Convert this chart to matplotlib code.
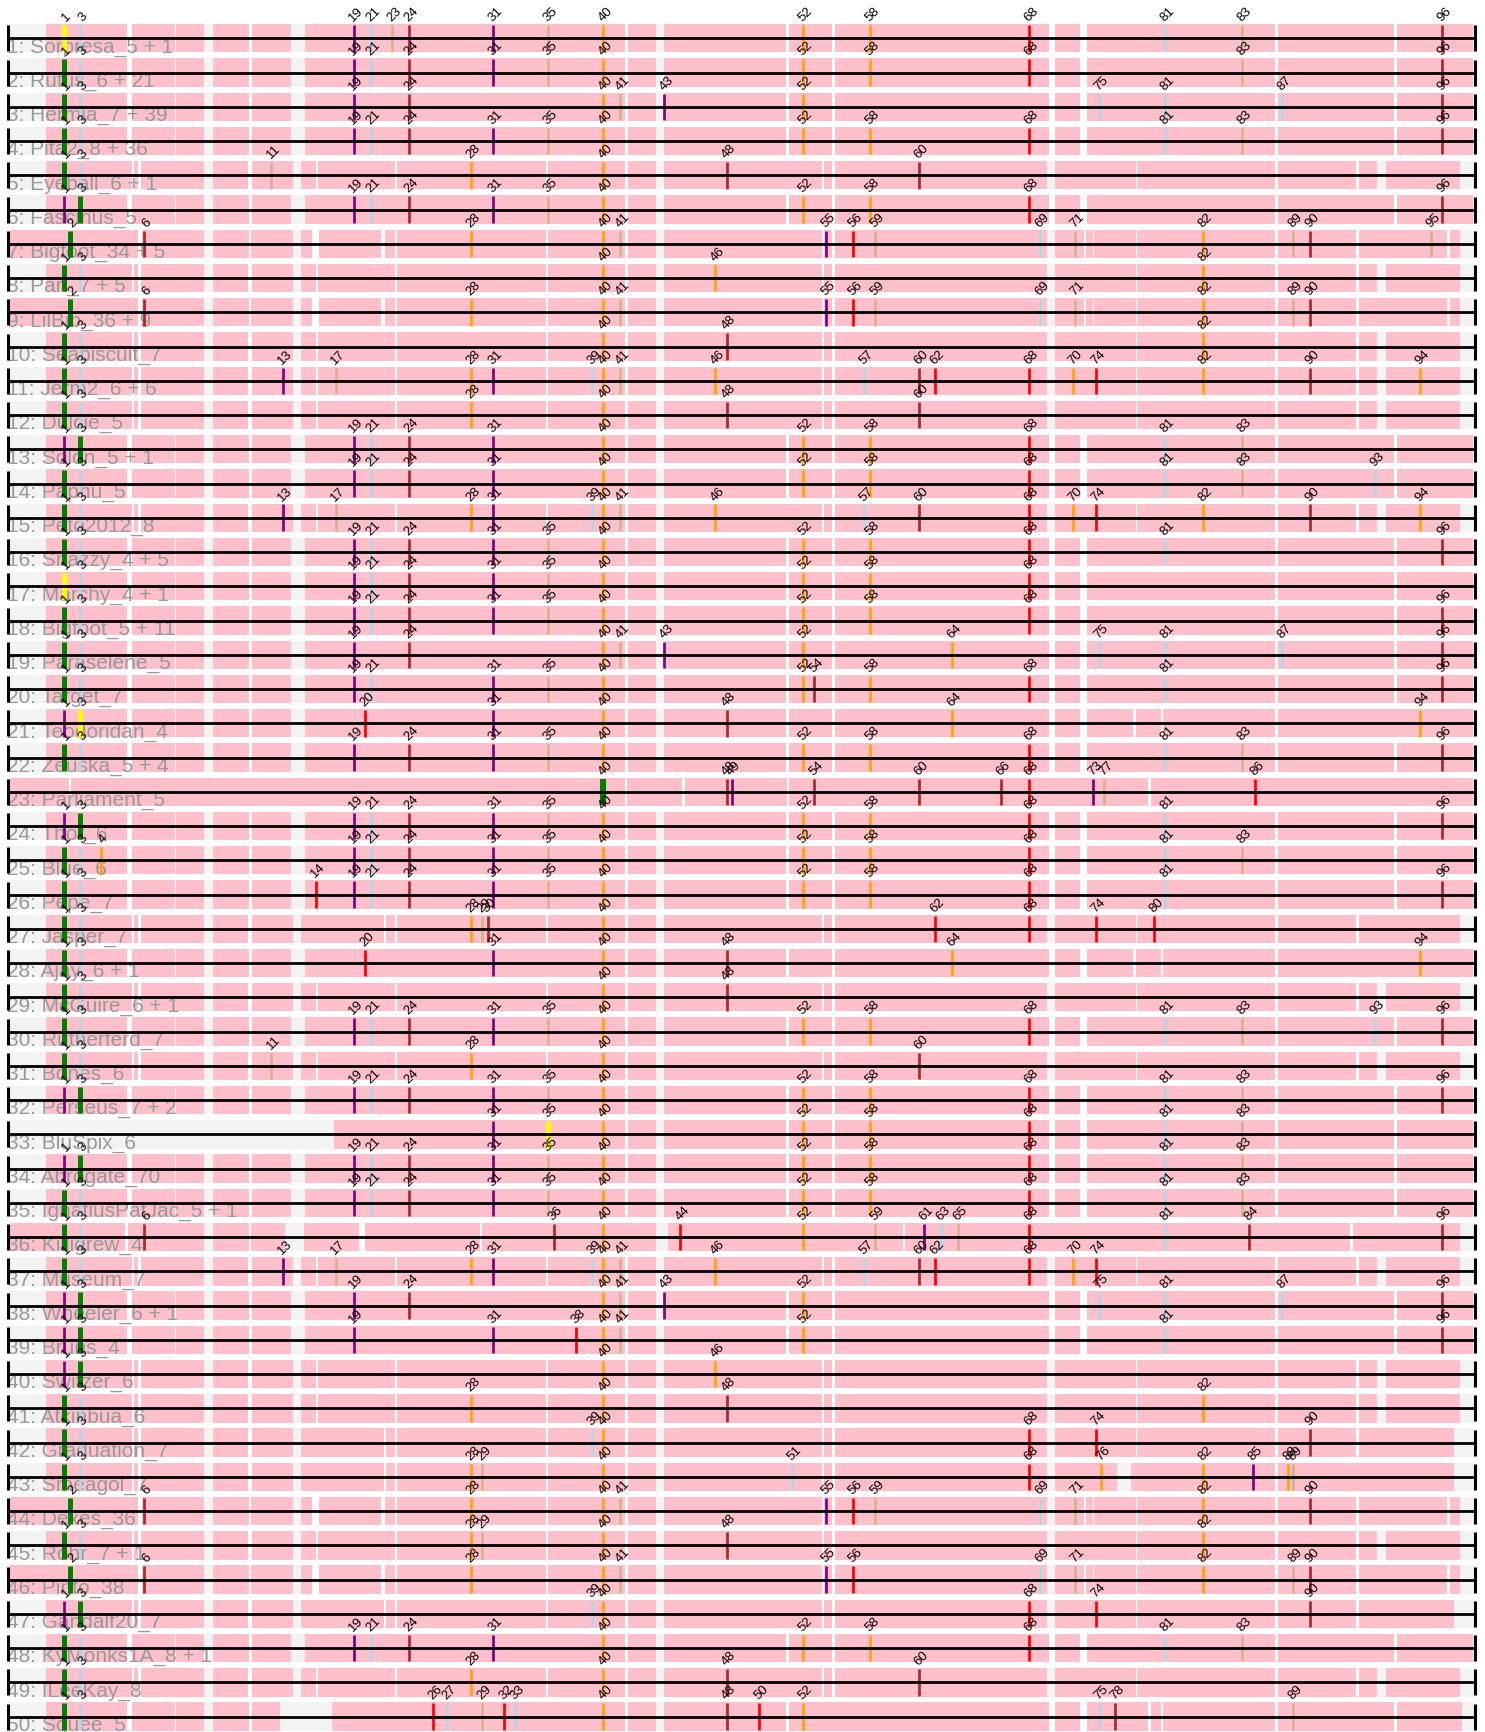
import matplotlib
matplotlib.use("Agg")
import matplotlib.pyplot as plt
from matplotlib.patches import Rectangle
from matplotlib import font_manager

# gene (pham) position along the aligned map, in map units
GENE_POS = {
    1: 64, 2: 70, 3: 80, 4: 101, 6: 144, 11: 271, 13: 283, 14: 316, 17: 336,
    19: 353.5, 20: 364.5, 21: 370.5, 23: 392, 24: 409, 26: 433, 27: 447,
    28: 471, 29: 482, 30: 487.5, 31: 493, 32: 504, 33: 515, 35: 548,
    36: 553.5, 38: 576, 39: 592, 40: 603, 41: 620, 43: 664, 44: 680,
    46: 715, 48: 726.5, 49: 731.5, 50: 759, 51: 792, 52: 803, 54: 814,
    55: 825.5, 56: 853, 57: 864, 58: 869.5, 59: 875, 60: 919, 61: 924,
    62: 935, 63: 941, 64: 952, 65: 958, 66: 1001, 68: 1029, 69: 1040,
    70: 1073, 71: 1075, 73: 1093, 74: 1095.5, 75: 1099, 76: 1100.5,
    77: 1104, 78: 1115, 80: 1154, 81: 1165, 82: 1203, 83: 1242, 84: 1249,
    85: 1253, 86: 1254.5, 87: 1282, 88: 1288, 89: 1293, 90: 1310,
    93: 1375, 94: 1420, 95: 1431, 96: 1442,
}

C = {"g": "#008000", "y": "#ffff00", "p": "#800080", "lb": "#add8e6",
     "t": "#d2b48c", "br": "#a52a2a", "o": "#ffa500", "r": "#ff0000"}

GENE_COLOR = {
    1: "g", 2: "g", 3: "lb", 4: "o", 6: "br", 11: "t", 13: "p", 14: "r", 17: "t",
    19: "p", 20: "r", 21: "lb", 23: "t", 24: "br", 26: "r", 27: "lb", 28: "o",
    29: "t", 30: "br", 31: "p", 32: "r", 33: "lb", 35: "t", 36: "br", 38: "r",
    39: "lb", 40: "o", 41: "t", 43: "p", 44: "r", 46: "o", 48: "br", 49: "p",
    50: "r", 51: "lb", 52: "o", 54: "br", 55: "p", 56: "r", 57: "lb", 58: "o",
    59: "t", 60: "br", 61: "p", 62: "r", 63: "lb", 64: "o", 65: "t", 66: "br",
    68: "r", 69: "lb", 70: "o", 71: "t", 73: "p", 74: "r", 75: "lb", 76: "o",
    77: "t", 78: "br", 80: "r", 81: "lb", 82: "o", 83: "t", 84: "br", 85: "p",
    86: "r", 87: "lb", 88: "o", 89: "t", 90: "br", 93: "lb", 94: "o", 95: "t",
    96: "br",
}

NAMES = [
    "Sorpresa_5 + 1", "Rufus_6 + 21", "Hermia_7 + 39", "Pita2_8 + 36",
    "Eyeball_6 + 1", "Fascinus_5", "Bigfoot_34 + 5", "Pari_7 + 5",
    "LilBib_36 + 9", "Seabiscuit_7", "Jerm2_6 + 6", "Dulcie_5", "Solon_5 + 1",
    "Paphu_5", "Peto2012_8", "Snazzy_4 + 5", "Marchy_4 + 1", "Bigfoot_5 + 11",
    "Paraselene_5", "Target_7", "Teodoridan_4", "Zeuska_5 + 4", "Parliament_5",
    "Thor_6", "Blue_6", "Pepe_7", "Jasper_7", "Ajay_6 + 1", "McGuire_6 + 1",
    "Rutherferd_7", "Bones_6", "Perseus_7 + 2", "BluSpix_6", "Abrogate_70",
    "IgnatiusPatJac_5 + 1", "Killigrew_4", "Museum_7", "Wheeler_6 + 1",
    "Bruns_4", "Switzer_6", "Atkinbua_6", "Graduation_7", "Smeagol_7",
    "Dexes_36", "Rohr_7 + 1", "Pinto_38", "Gandalf20_7", "KyMonks1A_8 + 1",
    "ILeeKay_8", "Squee_5",
]

GENES = [
    [1, 3, 19, 21, 23, 24, 31, 35, 40, 52, 58, 68, 81, 83, 96],
    [1, 3, 19, 21, 24, 31, 35, 40, 52, 58, 68, 83, 96],
    [1, 3, 19, 24, 40, 41, 43, 52, 75, 81, 87, 96],
    [1, 3, 19, 21, 24, 31, 35, 40, 52, 58, 68, 81, 83, 96],
    [1, 3, 11, 28, 40, 48, 60],
    [1, 3, 19, 21, 24, 31, 35, 40, 52, 58, 68, 96],
    [2, 6, 28, 40, 41, 55, 56, 59, 69, 71, 82, 89, 90, 95],
    [1, 3, 40, 46, 82],
    [2, 6, 28, 40, 41, 55, 56, 59, 69, 71, 82, 89, 90],
    [1, 3, 40, 48, 82],
    [1, 3, 13, 17, 28, 31, 39, 40, 41, 46, 57, 60, 62, 68, 70, 74, 82, 90, 94],
    [1, 3, 28, 40, 48, 60],
    [1, 3, 19, 21, 24, 31, 40, 52, 58, 68, 81, 83],
    [1, 3, 19, 21, 24, 31, 40, 52, 58, 68, 81, 83, 93],
    [1, 3, 13, 17, 28, 31, 39, 40, 41, 46, 57, 60, 68, 70, 74, 82, 90, 94],
    [1, 3, 19, 21, 24, 31, 35, 40, 52, 58, 68, 81, 96],
    [1, 3, 19, 21, 24, 31, 35, 40, 52, 58, 68],
    [1, 3, 19, 21, 24, 31, 35, 40, 52, 58, 68, 96],
    [1, 3, 19, 24, 40, 41, 43, 52, 64, 75, 81, 87, 96],
    [1, 3, 19, 21, 31, 35, 40, 52, 54, 58, 68, 81, 96],
    [1, 3, 20, 31, 40, 48, 64, 94],
    [1, 3, 19, 24, 31, 35, 40, 52, 58, 68, 81, 83, 96],
    [40, 48, 49, 54, 60, 66, 68, 73, 77, 86],
    [1, 3, 19, 21, 24, 31, 35, 40, 52, 58, 68, 81, 96],
    [1, 3, 4, 19, 21, 24, 31, 35, 40, 52, 58, 68, 81, 83],
    [1, 3, 14, 19, 21, 24, 31, 35, 40, 52, 58, 68, 81, 96],
    [1, 3, 28, 29, 30, 40, 62, 68, 74, 80],
    [1, 3, 20, 31, 40, 48, 64, 94],
    [1, 3, 40, 48],
    [1, 3, 19, 21, 24, 31, 35, 40, 52, 58, 68, 81, 83, 93, 96],
    [1, 3, 11, 28, 40, 60],
    [1, 3, 19, 21, 24, 31, 35, 40, 52, 58, 68, 81, 83, 96],
    [31, 35, 40, 52, 58, 68, 81, 83],
    [1, 3, 19, 21, 24, 31, 35, 40, 52, 58, 68, 81, 83],
    [1, 3, 19, 21, 24, 31, 35, 40, 52, 58, 68, 81, 83],
    [1, 3, 6, 36, 40, 44, 52, 59, 61, 63, 65, 68, 81, 84, 96],
    [1, 3, 13, 17, 28, 31, 39, 40, 41, 46, 57, 60, 62, 68, 70, 74],
    [1, 3, 19, 24, 40, 41, 43, 52, 75, 81, 87, 96],
    [1, 3, 19, 31, 38, 40, 41, 52, 81, 96],
    [1, 3, 40, 46],
    [1, 3, 28, 40, 48, 82],
    [1, 3, 39, 40, 68, 74, 90],
    [1, 3, 28, 29, 40, 51, 68, 76, 82, 85, 88, 89],
    [2, 6, 28, 40, 41, 55, 56, 59, 69, 71, 82, 90],
    [1, 3, 28, 29, 40, 48, 82],
    [2, 6, 28, 40, 41, 55, 56, 69, 71, 82, 89, 90],
    [1, 3, 39, 40, 68, 74, 90],
    [1, 3, 19, 21, 24, 31, 40, 52, 58, 68, 81, 83],
    [1, 3, 28, 40, 48, 60],
    [1, 3, 26, 27, 29, 32, 33, 40, 48, 50, 52, 75, 78, 89],
]

# (row, gene) -> colour key, where it differs from GENE_COLOR
OVERRIDE = {(1, 1): "y", (17, 1): "y", (21, 1): "p", (21, 3): "y",
            (23, 40): "g", (33, 35): "y"}
for r in (6, 13, 24, 32, 34, 38, 39, 40, 47):
    OVERRIDE[(r, 1)] = "p"
    OVERRIDE[(r, 3)] = "g"

# pink block layouts
BLK_A = [(45.7, 127), (132, 175), (176.3, 204.3), (212.7, 249), (251.7, 291),
         (304.7, 436.5), (437, 625), (628, 656), (664.3, 786), (789, 832),
         (835, 1049), (1055, 1080), (1086.7, 1275), (1277.7, 1394), (1397, 1473)]
BLK_B = [(45.7, 131.7), (134, 138), (141, 204.3), (212.7, 248.3), (251.7, 293),
         (301, 316), (317.6, 395), (396.7, 546.4), (548, 625), (628, 656),
         (664.3, 821.7), (824, 832), (835, 1046.7), (1055, 1135.7),
         (1136.6, 1274.7), (1277.7, 1355.6), (1358.6, 1377), (1385.7, 1459.7)]
BLK_C = [(10, 138), (141.7, 204.3), (212.7, 249), (251, 293), (301, 312),
         (319, 381), (385, 395), (396.5, 546), (548, 625), (628, 656),
         (664.3, 821.7), (824, 832), (835, 1046.7), (1055, 1084), (1086, 1093),
         (1093.6, 1135.7), (1136.6, 1274.7), (1277.7, 1355.6), (1358.6, 1446.8),
         (1450, 1459.7)]
BLK_D = BLK_B[:5] + [(301, 384), (386, 395)] + BLK_B[7:14] + \
    [(1136.6, 1274.7), (1277.7, 1355.6), (1358.6, 1459.7)]
BLK_D2 = BLK_D[:-1] + [(1358.6, 1454)]
BLK_SMEAGOL = BLK_D[:13] + [(1055, 1117), (1130.6, 1274.7), (1277.7, 1454)]
BLK_E = BLK_A[:11] + [(1055, 1080), (1086.7, 1132.7), (1135.7, 1160.7),
                      (1163.3, 1274.7), (1277.7, 1473)]
BLK_PARL = [(10, 69), (70.5, 625), (627, 682), (685, 787), (789, 1148),
            (1151, 1473)]
BLK_BLU = [(334, 436.5)] + BLK_A[6:]
BLK_KILL = [(10, 125), (128, 204.3), (212.7, 249), (251, 285), (304, 358.6),
            (364.5, 480), (481.5, 656), (668.4, 902.5), (905, 1350),
            (1353, 1459.7)]
BLK_SQUEE = BLK_A[:4] + [(251.7, 280), (332, 436.5), (437, 625), (628, 656),
                         (664.3, 786), (789, 1049), (1055, 1080),
                         (1086.7, 1147.8), (1150.8, 1160.7), (1163.3, 1274.7),
                         (1277.7, 1394), (1397, 1462)]

LAYOUT = {}
for r in (5, 8, 10, 11, 12, 15, 29, 31, 37, 40, 41, 45, 49):
    LAYOUT[r] = BLK_B
for r in (7, 9, 44, 46):
    LAYOUT[r] = BLK_C
LAYOUT.update({27: BLK_D, 42: BLK_D2, 47: BLK_D2, 43: BLK_SMEAGOL,
               21: BLK_E, 28: BLK_E, 23: BLK_PARL, 33: BLK_BLU,
               36: BLK_KILL, 50: BLK_SQUEE})

X0, X1 = 8, 1475
Y0, STEP = 38.3, 34.25
HALF = 14.2

have_narrow = any(f.name == "Liberation Sans Narrow"
                  for f in font_manager.fontManager.ttflist)
if have_narrow:
    label_font = dict(family=["Liberation Sans Narrow", "DejaVu Sans"], size=19)
else:
    label_font = dict(family=["Liberation Sans", "DejaVu Sans"], size=15)

fig = plt.figure(figsize=(14.85, 17.32), dpi=100)
ax = fig.add_axes([0, 0, 1, 1])
ax.set_xlim(0, 1485)
ax.set_ylim(1732, 0)
ax.axis("off")

for i, name in enumerate(NAMES):
    row = i + 1
    y = Y0 + i * STEP
    ax.add_patch(Rectangle((X0, y - HALF), X1 - X0, 2 * HALF,
                           facecolor="#f3f3f3", edgecolor="none", zorder=1))
    blocks = LAYOUT.get(row, BLK_A)
    for k, (a, b) in enumerate(blocks):
        ax.add_patch(Rectangle((a, y - HALF), b - a, 2 * HALF,
                               facecolor="#ffc0cb", edgecolor="none", zorder=2))
        if k + 1 < len(blocks):
            nxt = blocks[k + 1][0]
            if nxt - b < 8:
                ax.add_patch(Rectangle((b, y - HALF), max(nxt - b, 1.5), 2 * HALF,
                                       facecolor="white", edgecolor="none",
                                       zorder=2))
    ax.text(7, y + 14, f"{row}: {name}", color="#999999", ha="left",
            va="baseline", zorder=3, **label_font)
    for g in GENES[i]:
        x = GENE_POS[g]
        ck = OVERRIDE.get((row, g), GENE_COLOR[g])
        lw = 3.6 if ck in ("g", "y") else 1.95
        if row == 23 and g == 40:
            lw = 4.4
        ax.plot([x, x], [y - 13.3, y + 13.3], color=C[ck], lw=lw,
                solid_capstyle="butt", zorder=4)
        ax.text(x + 2.5, y - 14, str(g), rotation=45, ha="center", va="bottom",
                fontsize=9.5, family=["Liberation Sans", "DejaVu Sans"],
                color="black", zorder=6)
    ax.plot([X0, X1], [y, y], color="black", lw=2.0, zorder=5,
            solid_capstyle="butt")
    for xe in (X0, X1):
        ax.plot([xe, xe], [y - 13, y + 13], color="black", lw=2.2, zorder=5,
                solid_capstyle="butt")

fig.savefig("out.png", dpi=100)
